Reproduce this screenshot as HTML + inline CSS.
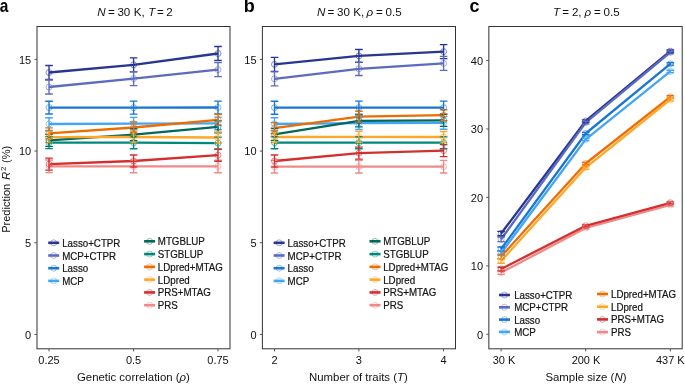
<!DOCTYPE html>
<html><head><meta charset="utf-8"><style>
html,body{margin:0;padding:0;background:#fff;width:685px;height:384px;overflow:hidden;position:relative}
svg{will-change:transform}
</style></head><body>
<svg width="685" height="384" viewBox="0 0 685 384" style="position:absolute;left:0;top:0">
<g font-family='"Liberation Sans", sans-serif' fill="#111" stroke-width="0.15">
<text transform="translate(-0.2,12.3) scale(0.86,1)" font-size="18" font-weight="bold" fill="#000">a</text>
<text x="243.8" y="12.3" font-size="18" font-weight="bold" fill="#000">b</text>
<text x="469.6" y="12.3" font-size="18" font-weight="bold" fill="#000">c</text>
<text x="97.2" y="16.1" font-size="11.6" font-style="italic">N</text>
<text x="108" y="16.1" font-size="11.6">=</text>
<text x="117.4" y="16.1" font-size="11.6">30</text>
<text x="133.8" y="16.1" font-size="11.6">K,</text>
<text x="148.2" y="16.1" font-size="11.6" font-style="italic">T</text>
<text x="157" y="16.1" font-size="11.6">=</text>
<text x="166.3" y="16.1" font-size="11.6">2</text>
<text x="317" y="16.1" font-size="11.6" font-style="italic">N</text>
<text x="327.6" y="16.1" font-size="11.6">=</text>
<text x="337.1" y="16.1" font-size="11.6">30</text>
<text x="353.2" y="16.1" font-size="11.6">K,</text>
<text x="366.6" y="16.1" font-size="11.6" font-style="italic">ρ</text>
<text x="376.1" y="16.1" font-size="11.6">=</text>
<text x="385.6" y="16.1" font-size="11.6">0.5</text>
<text x="552.9" y="16.1" font-size="11.6" font-style="italic">T</text>
<text x="562.3" y="16.1" font-size="11.6">=</text>
<text x="571.9" y="16.1" font-size="11.6">2,</text>
<text x="584.6" y="16.1" font-size="11.6" font-style="italic">ρ</text>
<text x="594" y="16.1" font-size="11.6">=</text>
<text x="603.6" y="16.1" font-size="11.6">0.5</text>
<text transform="translate(10.4,232.8) rotate(-90)" font-size="11" text-anchor="start">Prediction <tspan font-style="italic" dx="1.2">R</tspan><tspan font-size="8" dy="-4.8" dx="0.6">2</tspan><tspan dy="4.8" dx="0.6"> (%)</tspan></text>
<text x="133.4" y="380.8" font-size="11.4" text-anchor="middle" >Genetic correlation (<tspan font-style="italic">ρ</tspan>)</text>
<text x="358.4" y="380.8" font-size="11.4" text-anchor="middle" >Number of traits (<tspan font-style="italic">T</tspan>)</text>
<text x="585.9" y="380.8" font-size="11.4" text-anchor="middle" >Sample size (<tspan font-style="italic">N</tspan>)</text>
<rect x="37.0" y="26.5" width="193.0" height="322.3" fill="none" stroke="#333" stroke-width="1"/>
<path d="M34.4,334.4H37.0" stroke="#555" stroke-width="1"/>
<text x="31.2" y="338.79999999999995" font-size="11" text-anchor="end" >0</text>
<path d="M34.4,242.73H37.0" stroke="#555" stroke-width="1"/>
<text x="31.2" y="247.13" font-size="11" text-anchor="end" >5</text>
<path d="M34.4,151.07H37.0" stroke="#555" stroke-width="1"/>
<text x="31.2" y="155.47" font-size="11" text-anchor="end" >10</text>
<path d="M34.4,59.4H37.0" stroke="#555" stroke-width="1"/>
<text x="31.2" y="63.8" font-size="11" text-anchor="end" >15</text>
<path d="M49,348.8V351.40000000000003" stroke="#555" stroke-width="1"/>
<text x="49" y="364.1" font-size="11" text-anchor="middle" >0.25</text>
<path d="M133.6,348.8V351.40000000000003" stroke="#555" stroke-width="1"/>
<text x="133.6" y="364.1" font-size="11" text-anchor="middle" >0.5</text>
<path d="M218,348.8V351.40000000000003" stroke="#555" stroke-width="1"/>
<text x="218" y="364.1" font-size="11" text-anchor="middle" >0.75</text>
<polyline points="49,72.5 133.6,64.8 218,53.5" fill="none" stroke="#283593" stroke-width="2.3" stroke-linejoin="round"/>
<polyline points="49,87 133.6,78.6 218,69.6" fill="none" stroke="#5C6BC0" stroke-width="2.3" stroke-linejoin="round"/>
<polyline points="49,107.6 133.6,107.6 218,107.5" fill="none" stroke="#1976D2" stroke-width="2.3" stroke-linejoin="round"/>
<polyline points="49,124 133.6,123.6 218,123.4" fill="none" stroke="#42A5F5" stroke-width="2.3" stroke-linejoin="round"/>
<polyline points="49,140.3 133.6,134.6 218,126.8" fill="none" stroke="#00695C" stroke-width="2.3" stroke-linejoin="round"/>
<polyline points="49,142.6 133.6,142.7 218,143.1" fill="none" stroke="#00897B" stroke-width="2.3" stroke-linejoin="round"/>
<polyline points="49,133.4 133.6,127.5 218,119.8" fill="none" stroke="#EF6C00" stroke-width="2.3" stroke-linejoin="round"/>
<polyline points="49,137.1 133.6,137 218,137.5" fill="none" stroke="#FFA726" stroke-width="2.3" stroke-linejoin="round"/>
<polyline points="49,166.3 133.6,166.4 218,166.4" fill="none" stroke="#EF8A8A" stroke-width="2.3" stroke-linejoin="round"/>
<polyline points="49,164.1 133.6,161 218,155.2" fill="none" stroke="#D32F2F" stroke-width="2.3" stroke-linejoin="round"/>
<path d="M49,65.5V79.5M45.2,65.5H52.8M45.2,79.5H52.8" stroke="#283593" stroke-width="1.35" fill="none"/>
<path d="M133.6,57.8V71.8M129.79999999999998,57.8H137.4M129.79999999999998,71.8H137.4" stroke="#283593" stroke-width="1.35" fill="none"/>
<path d="M218,46.5V60.5M214.2,46.5H221.8M214.2,60.5H221.8" stroke="#283593" stroke-width="1.35" fill="none"/>
<path d="M49,80V94M45.2,80H52.8M45.2,94H52.8" stroke="#5C6BC0" stroke-width="1.35" fill="none"/>
<path d="M133.6,71.6V85.6M129.79999999999998,71.6H137.4M129.79999999999998,85.6H137.4" stroke="#5C6BC0" stroke-width="1.35" fill="none"/>
<path d="M218,62.6V76.6M214.2,62.6H221.8M214.2,76.6H221.8" stroke="#5C6BC0" stroke-width="1.35" fill="none"/>
<path d="M49,101.2V114.0M45.2,101.2H52.8M45.2,114.0H52.8" stroke="#1976D2" stroke-width="1.35" fill="none"/>
<path d="M133.6,101.1V114.1M129.79999999999998,101.1H137.4M129.79999999999998,114.1H137.4" stroke="#1976D2" stroke-width="1.35" fill="none"/>
<path d="M218,101.1V113.9M214.2,101.1H221.8M214.2,113.9H221.8" stroke="#1976D2" stroke-width="1.35" fill="none"/>
<path d="M49,117.7V130.3M45.2,117.7H52.8M45.2,130.3H52.8" stroke="#42A5F5" stroke-width="1.35" fill="none"/>
<path d="M133.6,117.3V129.9M129.79999999999998,117.3H137.4M129.79999999999998,129.9H137.4" stroke="#42A5F5" stroke-width="1.35" fill="none"/>
<path d="M218,117.1V129.7M214.2,117.1H221.8M214.2,129.7H221.8" stroke="#42A5F5" stroke-width="1.35" fill="none"/>
<path d="M49,134.3V146.3M45.2,134.3H52.8M45.2,146.3H52.8" stroke="#00695C" stroke-width="1.35" fill="none"/>
<path d="M133.6,128.6V140.6M129.79999999999998,128.6H137.4M129.79999999999998,140.6H137.4" stroke="#00695C" stroke-width="1.35" fill="none"/>
<path d="M218,120.8V132.8M214.2,120.8H221.8M214.2,132.8H221.8" stroke="#00695C" stroke-width="1.35" fill="none"/>
<path d="M49,136.6V148.6M45.2,136.6H52.8M45.2,148.6H52.8" stroke="#00897B" stroke-width="1.35" fill="none"/>
<path d="M133.6,136.7V148.7M129.79999999999998,136.7H137.4M129.79999999999998,148.7H137.4" stroke="#00897B" stroke-width="1.35" fill="none"/>
<path d="M218,137.1V149.1M214.2,137.1H221.8M214.2,149.1H221.8" stroke="#00897B" stroke-width="1.35" fill="none"/>
<path d="M49,127.9V138.9M45.2,127.9H52.8M45.2,138.9H52.8" stroke="#EF6C00" stroke-width="1.35" fill="none"/>
<path d="M133.6,122.0V133.0M129.79999999999998,122.0H137.4M129.79999999999998,133.0H137.4" stroke="#EF6C00" stroke-width="1.35" fill="none"/>
<path d="M218,114.3V125.3M214.2,114.3H221.8M214.2,125.3H221.8" stroke="#EF6C00" stroke-width="1.35" fill="none"/>
<path d="M49,131.6V142.6M45.2,131.6H52.8M45.2,142.6H52.8" stroke="#FFA726" stroke-width="1.35" fill="none"/>
<path d="M133.6,131.5V142.5M129.79999999999998,131.5H137.4M129.79999999999998,142.5H137.4" stroke="#FFA726" stroke-width="1.35" fill="none"/>
<path d="M218,132.0V143.0M214.2,132.0H221.8M214.2,143.0H221.8" stroke="#FFA726" stroke-width="1.35" fill="none"/>
<path d="M49,160.0V172.6M45.2,160.0H52.8M45.2,172.6H52.8" stroke="#EF8A8A" stroke-width="1.35" fill="none"/>
<path d="M133.6,160.1V172.7M129.79999999999998,160.1H137.4M129.79999999999998,172.7H137.4" stroke="#EF8A8A" stroke-width="1.35" fill="none"/>
<path d="M218,160.1V172.7M214.2,160.1H221.8M214.2,172.7H221.8" stroke="#EF8A8A" stroke-width="1.35" fill="none"/>
<path d="M49,158.1V170.1M45.2,158.1H52.8M45.2,170.1H52.8" stroke="#D32F2F" stroke-width="1.35" fill="none"/>
<path d="M133.6,155V167M129.79999999999998,155H137.4M129.79999999999998,167H137.4" stroke="#D32F2F" stroke-width="1.35" fill="none"/>
<path d="M218,149.2V161.2M214.2,149.2H221.8M214.2,161.2H221.8" stroke="#D32F2F" stroke-width="1.35" fill="none"/>
<circle cx="49" cy="72.5" r="3" fill="none" stroke="#283593" stroke-width="0.8" stroke-opacity="0.7"/>
<circle cx="133.6" cy="64.8" r="3" fill="none" stroke="#283593" stroke-width="0.8" stroke-opacity="0.7"/>
<circle cx="218" cy="53.5" r="3" fill="none" stroke="#283593" stroke-width="0.8" stroke-opacity="0.7"/>
<circle cx="49" cy="87" r="3" fill="none" stroke="#5C6BC0" stroke-width="0.8" stroke-opacity="0.7"/>
<circle cx="133.6" cy="78.6" r="3" fill="none" stroke="#5C6BC0" stroke-width="0.8" stroke-opacity="0.7"/>
<circle cx="218" cy="69.6" r="3" fill="none" stroke="#5C6BC0" stroke-width="0.8" stroke-opacity="0.7"/>
<circle cx="49" cy="107.6" r="3" fill="none" stroke="#1976D2" stroke-width="0.8" stroke-opacity="0.7"/>
<circle cx="133.6" cy="107.6" r="3" fill="none" stroke="#1976D2" stroke-width="0.8" stroke-opacity="0.7"/>
<circle cx="218" cy="107.5" r="3" fill="none" stroke="#1976D2" stroke-width="0.8" stroke-opacity="0.7"/>
<circle cx="49" cy="124" r="3" fill="none" stroke="#42A5F5" stroke-width="0.8" stroke-opacity="0.7"/>
<circle cx="133.6" cy="123.6" r="3" fill="none" stroke="#42A5F5" stroke-width="0.8" stroke-opacity="0.7"/>
<circle cx="218" cy="123.4" r="3" fill="none" stroke="#42A5F5" stroke-width="0.8" stroke-opacity="0.7"/>
<circle cx="49" cy="140.3" r="3" fill="none" stroke="#00695C" stroke-width="0.8" stroke-opacity="0.7"/>
<circle cx="133.6" cy="134.6" r="3" fill="none" stroke="#00695C" stroke-width="0.8" stroke-opacity="0.7"/>
<circle cx="218" cy="126.8" r="3" fill="none" stroke="#00695C" stroke-width="0.8" stroke-opacity="0.7"/>
<circle cx="49" cy="142.6" r="3" fill="none" stroke="#00897B" stroke-width="0.8" stroke-opacity="0.7"/>
<circle cx="133.6" cy="142.7" r="3" fill="none" stroke="#00897B" stroke-width="0.8" stroke-opacity="0.7"/>
<circle cx="218" cy="143.1" r="3" fill="none" stroke="#00897B" stroke-width="0.8" stroke-opacity="0.7"/>
<circle cx="49" cy="133.4" r="3" fill="none" stroke="#EF6C00" stroke-width="0.8" stroke-opacity="0.7"/>
<circle cx="133.6" cy="127.5" r="3" fill="none" stroke="#EF6C00" stroke-width="0.8" stroke-opacity="0.7"/>
<circle cx="218" cy="119.8" r="3" fill="none" stroke="#EF6C00" stroke-width="0.8" stroke-opacity="0.7"/>
<circle cx="49" cy="137.1" r="3" fill="none" stroke="#FFA726" stroke-width="0.8" stroke-opacity="0.7"/>
<circle cx="133.6" cy="137" r="3" fill="none" stroke="#FFA726" stroke-width="0.8" stroke-opacity="0.7"/>
<circle cx="218" cy="137.5" r="3" fill="none" stroke="#FFA726" stroke-width="0.8" stroke-opacity="0.7"/>
<circle cx="49" cy="166.3" r="3" fill="none" stroke="#EF8A8A" stroke-width="0.8" stroke-opacity="0.7"/>
<circle cx="133.6" cy="166.4" r="3" fill="none" stroke="#EF8A8A" stroke-width="0.8" stroke-opacity="0.7"/>
<circle cx="218" cy="166.4" r="3" fill="none" stroke="#EF8A8A" stroke-width="0.8" stroke-opacity="0.7"/>
<circle cx="49" cy="164.1" r="3" fill="none" stroke="#D32F2F" stroke-width="0.8" stroke-opacity="0.7"/>
<circle cx="133.6" cy="161" r="3" fill="none" stroke="#D32F2F" stroke-width="0.8" stroke-opacity="0.7"/>
<circle cx="218" cy="155.2" r="3" fill="none" stroke="#D32F2F" stroke-width="0.8" stroke-opacity="0.7"/>
<rect x="262.4" y="26.5" width="193.10000000000002" height="322.3" fill="none" stroke="#333" stroke-width="1"/>
<path d="M259.79999999999995,334.4H262.4" stroke="#555" stroke-width="1"/>
<text x="256.59999999999997" y="338.79999999999995" font-size="11" text-anchor="end" >0</text>
<path d="M259.79999999999995,242.73H262.4" stroke="#555" stroke-width="1"/>
<text x="256.59999999999997" y="247.13" font-size="11" text-anchor="end" >5</text>
<path d="M259.79999999999995,151.07H262.4" stroke="#555" stroke-width="1"/>
<text x="256.59999999999997" y="155.47" font-size="11" text-anchor="end" >10</text>
<path d="M259.79999999999995,59.4H262.4" stroke="#555" stroke-width="1"/>
<text x="256.59999999999997" y="63.8" font-size="11" text-anchor="end" >15</text>
<path d="M274.5,348.8V351.40000000000003" stroke="#555" stroke-width="1"/>
<text x="274.5" y="364.1" font-size="11" text-anchor="middle" >2</text>
<path d="M358.9,348.8V351.40000000000003" stroke="#555" stroke-width="1"/>
<text x="358.9" y="364.1" font-size="11" text-anchor="middle" >3</text>
<path d="M443.6,348.8V351.40000000000003" stroke="#555" stroke-width="1"/>
<text x="443.6" y="364.1" font-size="11" text-anchor="middle" >4</text>
<polyline points="274.5,64.4 358.9,55.9 443.6,51.6" fill="none" stroke="#283593" stroke-width="2.3" stroke-linejoin="round"/>
<polyline points="274.5,78.8 358.9,68.8 443.6,63.4" fill="none" stroke="#5C6BC0" stroke-width="2.3" stroke-linejoin="round"/>
<polyline points="274.5,107.7 358.9,107.6 443.6,107.6" fill="none" stroke="#1976D2" stroke-width="2.3" stroke-linejoin="round"/>
<polyline points="274.5,124 358.9,123.2 443.6,122.9" fill="none" stroke="#42A5F5" stroke-width="2.3" stroke-linejoin="round"/>
<polyline points="274.5,134.4 358.9,120.8 443.6,120.4" fill="none" stroke="#00695C" stroke-width="2.3" stroke-linejoin="round"/>
<polyline points="274.5,142.7 358.9,142.7 443.6,142.7" fill="none" stroke="#00897B" stroke-width="2.3" stroke-linejoin="round"/>
<polyline points="274.5,128.1 358.9,116.7 443.6,115.2" fill="none" stroke="#EF6C00" stroke-width="2.3" stroke-linejoin="round"/>
<polyline points="274.5,137.0 358.9,136.9 443.6,137.0" fill="none" stroke="#FFA726" stroke-width="2.3" stroke-linejoin="round"/>
<polyline points="274.5,166.7 358.9,166.7 443.6,166.7" fill="none" stroke="#EF8A8A" stroke-width="2.3" stroke-linejoin="round"/>
<polyline points="274.5,161 358.9,153.1 443.6,150.6" fill="none" stroke="#D32F2F" stroke-width="2.3" stroke-linejoin="round"/>
<path d="M274.5,57.4V71.4M270.7,57.4H278.3M270.7,71.4H278.3" stroke="#283593" stroke-width="1.35" fill="none"/>
<path d="M358.9,49.5V62.3M355.09999999999997,49.5H362.7M355.09999999999997,62.3H362.7" stroke="#283593" stroke-width="1.35" fill="none"/>
<path d="M443.6,44.6V58.6M439.8,44.6H447.40000000000003M439.8,58.6H447.40000000000003" stroke="#283593" stroke-width="1.35" fill="none"/>
<path d="M274.5,71.8V85.8M270.7,71.8H278.3M270.7,85.8H278.3" stroke="#5C6BC0" stroke-width="1.35" fill="none"/>
<path d="M358.9,62.1V75.5M355.09999999999997,62.1H362.7M355.09999999999997,75.5H362.7" stroke="#5C6BC0" stroke-width="1.35" fill="none"/>
<path d="M443.6,56.4V70.4M439.8,56.4H447.40000000000003M439.8,70.4H447.40000000000003" stroke="#5C6BC0" stroke-width="1.35" fill="none"/>
<path d="M274.5,101.2V114.2M270.7,101.2H278.3M270.7,114.2H278.3" stroke="#1976D2" stroke-width="1.35" fill="none"/>
<path d="M358.9,101.1V114.1M355.09999999999997,101.1H362.7M355.09999999999997,114.1H362.7" stroke="#1976D2" stroke-width="1.35" fill="none"/>
<path d="M443.6,101.1V114.1M439.8,101.1H447.40000000000003M439.8,114.1H447.40000000000003" stroke="#1976D2" stroke-width="1.35" fill="none"/>
<path d="M274.5,117.7V130.3M270.7,117.7H278.3M270.7,130.3H278.3" stroke="#42A5F5" stroke-width="1.35" fill="none"/>
<path d="M358.9,116.9V129.5M355.09999999999997,116.9H362.7M355.09999999999997,129.5H362.7" stroke="#42A5F5" stroke-width="1.35" fill="none"/>
<path d="M443.6,116.6V129.2M439.8,116.6H447.40000000000003M439.8,129.2H447.40000000000003" stroke="#42A5F5" stroke-width="1.35" fill="none"/>
<path d="M274.5,128.4V140.4M270.7,128.4H278.3M270.7,140.4H278.3" stroke="#00695C" stroke-width="1.35" fill="none"/>
<path d="M358.9,114.8V126.8M355.09999999999997,114.8H362.7M355.09999999999997,126.8H362.7" stroke="#00695C" stroke-width="1.35" fill="none"/>
<path d="M443.6,114.4V126.4M439.8,114.4H447.40000000000003M439.8,126.4H447.40000000000003" stroke="#00695C" stroke-width="1.35" fill="none"/>
<path d="M274.5,136.7V148.7M270.7,136.7H278.3M270.7,148.7H278.3" stroke="#00897B" stroke-width="1.35" fill="none"/>
<path d="M358.9,136.7V148.7M355.09999999999997,136.7H362.7M355.09999999999997,148.7H362.7" stroke="#00897B" stroke-width="1.35" fill="none"/>
<path d="M443.6,136.7V148.7M439.8,136.7H447.40000000000003M439.8,148.7H447.40000000000003" stroke="#00897B" stroke-width="1.35" fill="none"/>
<path d="M274.5,122.6V133.6M270.7,122.6H278.3M270.7,133.6H278.3" stroke="#EF6C00" stroke-width="1.35" fill="none"/>
<path d="M358.9,111.2V122.2M355.09999999999997,111.2H362.7M355.09999999999997,122.2H362.7" stroke="#EF6C00" stroke-width="1.35" fill="none"/>
<path d="M443.6,109.7V120.7M439.8,109.7H447.40000000000003M439.8,120.7H447.40000000000003" stroke="#EF6C00" stroke-width="1.35" fill="none"/>
<path d="M274.5,131.5V142.5M270.7,131.5H278.3M270.7,142.5H278.3" stroke="#FFA726" stroke-width="1.35" fill="none"/>
<path d="M358.9,131.4V142.4M355.09999999999997,131.4H362.7M355.09999999999997,142.4H362.7" stroke="#FFA726" stroke-width="1.35" fill="none"/>
<path d="M443.6,131.5V142.5M439.8,131.5H447.40000000000003M439.8,142.5H447.40000000000003" stroke="#FFA726" stroke-width="1.35" fill="none"/>
<path d="M274.5,160.4V173.0M270.7,160.4H278.3M270.7,173.0H278.3" stroke="#EF8A8A" stroke-width="1.35" fill="none"/>
<path d="M358.9,160.4V173.0M355.09999999999997,160.4H362.7M355.09999999999997,173.0H362.7" stroke="#EF8A8A" stroke-width="1.35" fill="none"/>
<path d="M443.6,160.4V173.0M439.8,160.4H447.40000000000003M439.8,173.0H447.40000000000003" stroke="#EF8A8A" stroke-width="1.35" fill="none"/>
<path d="M274.5,155V167M270.7,155H278.3M270.7,167H278.3" stroke="#D32F2F" stroke-width="1.35" fill="none"/>
<path d="M358.9,147.1V159.1M355.09999999999997,147.1H362.7M355.09999999999997,159.1H362.7" stroke="#D32F2F" stroke-width="1.35" fill="none"/>
<path d="M443.6,144.6V156.6M439.8,144.6H447.40000000000003M439.8,156.6H447.40000000000003" stroke="#D32F2F" stroke-width="1.35" fill="none"/>
<circle cx="274.5" cy="64.4" r="3" fill="none" stroke="#283593" stroke-width="0.8" stroke-opacity="0.7"/>
<circle cx="358.9" cy="55.9" r="3" fill="none" stroke="#283593" stroke-width="0.8" stroke-opacity="0.7"/>
<circle cx="443.6" cy="51.6" r="3" fill="none" stroke="#283593" stroke-width="0.8" stroke-opacity="0.7"/>
<circle cx="274.5" cy="78.8" r="3" fill="none" stroke="#5C6BC0" stroke-width="0.8" stroke-opacity="0.7"/>
<circle cx="358.9" cy="68.8" r="3" fill="none" stroke="#5C6BC0" stroke-width="0.8" stroke-opacity="0.7"/>
<circle cx="443.6" cy="63.4" r="3" fill="none" stroke="#5C6BC0" stroke-width="0.8" stroke-opacity="0.7"/>
<circle cx="274.5" cy="107.7" r="3" fill="none" stroke="#1976D2" stroke-width="0.8" stroke-opacity="0.7"/>
<circle cx="358.9" cy="107.6" r="3" fill="none" stroke="#1976D2" stroke-width="0.8" stroke-opacity="0.7"/>
<circle cx="443.6" cy="107.6" r="3" fill="none" stroke="#1976D2" stroke-width="0.8" stroke-opacity="0.7"/>
<circle cx="274.5" cy="124" r="3" fill="none" stroke="#42A5F5" stroke-width="0.8" stroke-opacity="0.7"/>
<circle cx="358.9" cy="123.2" r="3" fill="none" stroke="#42A5F5" stroke-width="0.8" stroke-opacity="0.7"/>
<circle cx="443.6" cy="122.9" r="3" fill="none" stroke="#42A5F5" stroke-width="0.8" stroke-opacity="0.7"/>
<circle cx="274.5" cy="134.4" r="3" fill="none" stroke="#00695C" stroke-width="0.8" stroke-opacity="0.7"/>
<circle cx="358.9" cy="120.8" r="3" fill="none" stroke="#00695C" stroke-width="0.8" stroke-opacity="0.7"/>
<circle cx="443.6" cy="120.4" r="3" fill="none" stroke="#00695C" stroke-width="0.8" stroke-opacity="0.7"/>
<circle cx="274.5" cy="142.7" r="3" fill="none" stroke="#00897B" stroke-width="0.8" stroke-opacity="0.7"/>
<circle cx="358.9" cy="142.7" r="3" fill="none" stroke="#00897B" stroke-width="0.8" stroke-opacity="0.7"/>
<circle cx="443.6" cy="142.7" r="3" fill="none" stroke="#00897B" stroke-width="0.8" stroke-opacity="0.7"/>
<circle cx="274.5" cy="128.1" r="3" fill="none" stroke="#EF6C00" stroke-width="0.8" stroke-opacity="0.7"/>
<circle cx="358.9" cy="116.7" r="3" fill="none" stroke="#EF6C00" stroke-width="0.8" stroke-opacity="0.7"/>
<circle cx="443.6" cy="115.2" r="3" fill="none" stroke="#EF6C00" stroke-width="0.8" stroke-opacity="0.7"/>
<circle cx="274.5" cy="137.0" r="3" fill="none" stroke="#FFA726" stroke-width="0.8" stroke-opacity="0.7"/>
<circle cx="358.9" cy="136.9" r="3" fill="none" stroke="#FFA726" stroke-width="0.8" stroke-opacity="0.7"/>
<circle cx="443.6" cy="137.0" r="3" fill="none" stroke="#FFA726" stroke-width="0.8" stroke-opacity="0.7"/>
<circle cx="274.5" cy="166.7" r="3" fill="none" stroke="#EF8A8A" stroke-width="0.8" stroke-opacity="0.7"/>
<circle cx="358.9" cy="166.7" r="3" fill="none" stroke="#EF8A8A" stroke-width="0.8" stroke-opacity="0.7"/>
<circle cx="443.6" cy="166.7" r="3" fill="none" stroke="#EF8A8A" stroke-width="0.8" stroke-opacity="0.7"/>
<circle cx="274.5" cy="161" r="3" fill="none" stroke="#D32F2F" stroke-width="0.8" stroke-opacity="0.7"/>
<circle cx="358.9" cy="153.1" r="3" fill="none" stroke="#D32F2F" stroke-width="0.8" stroke-opacity="0.7"/>
<circle cx="443.6" cy="150.6" r="3" fill="none" stroke="#D32F2F" stroke-width="0.8" stroke-opacity="0.7"/>
<rect x="488.85" y="26.5" width="193.35000000000002" height="322.3" fill="none" stroke="#333" stroke-width="1"/>
<path d="M486.25,334.3H488.85" stroke="#555" stroke-width="1"/>
<text x="483.05" y="338.7" font-size="11" text-anchor="end" >0</text>
<path d="M486.25,265.85H488.85" stroke="#555" stroke-width="1"/>
<text x="483.05" y="270.25" font-size="11" text-anchor="end" >10</text>
<path d="M486.25,197.4H488.85" stroke="#555" stroke-width="1"/>
<text x="483.05" y="201.8" font-size="11" text-anchor="end" >20</text>
<path d="M486.25,128.95H488.85" stroke="#555" stroke-width="1"/>
<text x="483.05" y="133.35" font-size="11" text-anchor="end" >30</text>
<path d="M486.25,60.5H488.85" stroke="#555" stroke-width="1"/>
<text x="483.05" y="64.9" font-size="11" text-anchor="end" >40</text>
<path d="M501.1,348.8V351.40000000000003" stroke="#555" stroke-width="1"/>
<text x="504.0" y="364.1" font-size="11" text-anchor="middle" >30 K</text>
<path d="M585.7,348.8V351.40000000000003" stroke="#555" stroke-width="1"/>
<text x="586.0" y="364.1" font-size="11" text-anchor="middle" >200 K</text>
<path d="M670.3,348.8V351.40000000000003" stroke="#555" stroke-width="1"/>
<text x="670.3" y="364.1" font-size="11" text-anchor="middle" >437 K</text>
<polyline points="501.1,233.5 585.7,121.0 670.3,51.2" fill="none" stroke="#283593" stroke-width="2.3" stroke-linejoin="round"/>
<polyline points="501.1,239.3 585.7,122.6 670.3,52.3" fill="none" stroke="#5C6BC0" stroke-width="2.3" stroke-linejoin="round"/>
<polyline points="501.1,249 585.7,133.5 670.3,63.9" fill="none" stroke="#1976D2" stroke-width="2.3" stroke-linejoin="round"/>
<polyline points="501.1,253 585.7,139.4 670.3,71.4" fill="none" stroke="#42A5F5" stroke-width="2.3" stroke-linejoin="round"/>
<polyline points="501.1,256.5 585.7,163.5 670.3,96.9" fill="none" stroke="#EF6C00" stroke-width="2.3" stroke-linejoin="round"/>
<polyline points="501.1,261 585.7,167.6 670.3,99.6" fill="none" stroke="#FFA726" stroke-width="2.3" stroke-linejoin="round"/>
<polyline points="501.1,272.6 585.7,228.0 670.3,205.0" fill="none" stroke="#EF8A8A" stroke-width="2.3" stroke-linejoin="round"/>
<polyline points="501.1,269 585.7,225.8 670.3,202.8" fill="none" stroke="#D32F2F" stroke-width="2.3" stroke-linejoin="round"/>
<path d="M501.1,231.3V235.7M497.3,231.3H504.90000000000003M497.3,235.7H504.90000000000003" stroke="#283593" stroke-width="1.35" fill="none"/>
<path d="M585.7,119.8V122.2M581.9000000000001,119.8H589.5M581.9000000000001,122.2H589.5" stroke="#283593" stroke-width="1.35" fill="none"/>
<path d="M670.3,50.0V52.4M666.5,50.0H674.0999999999999M666.5,52.4H674.0999999999999" stroke="#283593" stroke-width="1.35" fill="none"/>
<path d="M501.1,237.0V241.6M497.3,237.0H504.90000000000003M497.3,241.6H504.90000000000003" stroke="#5C6BC0" stroke-width="1.35" fill="none"/>
<path d="M585.7,121.4V123.8M581.9000000000001,121.4H589.5M581.9000000000001,123.8H589.5" stroke="#5C6BC0" stroke-width="1.35" fill="none"/>
<path d="M670.3,51.1V53.5M666.5,51.1H674.0999999999999M666.5,53.5H674.0999999999999" stroke="#5C6BC0" stroke-width="1.35" fill="none"/>
<path d="M501.1,247.0V251.0M497.3,247.0H504.90000000000003M497.3,251.0H504.90000000000003" stroke="#1976D2" stroke-width="1.35" fill="none"/>
<path d="M585.7,132.3V134.7M581.9000000000001,132.3H589.5M581.9000000000001,134.7H589.5" stroke="#1976D2" stroke-width="1.35" fill="none"/>
<path d="M670.3,62.7V65.1M666.5,62.7H674.0999999999999M666.5,65.1H674.0999999999999" stroke="#1976D2" stroke-width="1.35" fill="none"/>
<path d="M501.1,250.6V255.4M497.3,250.6H504.90000000000003M497.3,255.4H504.90000000000003" stroke="#42A5F5" stroke-width="1.35" fill="none"/>
<path d="M585.7,138.2V140.6M581.9000000000001,138.2H589.5M581.9000000000001,140.6H589.5" stroke="#42A5F5" stroke-width="1.35" fill="none"/>
<path d="M670.3,70.2V72.6M666.5,70.2H674.0999999999999M666.5,72.6H674.0999999999999" stroke="#42A5F5" stroke-width="1.35" fill="none"/>
<path d="M501.1,254.3V258.7M497.3,254.3H504.90000000000003M497.3,258.7H504.90000000000003" stroke="#EF6C00" stroke-width="1.35" fill="none"/>
<path d="M585.7,162.3V164.7M581.9000000000001,162.3H589.5M581.9000000000001,164.7H589.5" stroke="#EF6C00" stroke-width="1.35" fill="none"/>
<path d="M670.3,95.7V98.1M666.5,95.7H674.0999999999999M666.5,98.1H674.0999999999999" stroke="#EF6C00" stroke-width="1.35" fill="none"/>
<path d="M501.1,258.8V263.2M497.3,258.8H504.90000000000003M497.3,263.2H504.90000000000003" stroke="#FFA726" stroke-width="1.35" fill="none"/>
<path d="M585.7,166.1V169.1M581.9000000000001,166.1H589.5M581.9000000000001,169.1H589.5" stroke="#FFA726" stroke-width="1.35" fill="none"/>
<path d="M670.3,98.4V100.8M666.5,98.4H674.0999999999999M666.5,100.8H674.0999999999999" stroke="#FFA726" stroke-width="1.35" fill="none"/>
<path d="M501.1,270.8V274.4M497.3,270.8H504.90000000000003M497.3,274.4H504.90000000000003" stroke="#EF8A8A" stroke-width="1.35" fill="none"/>
<path d="M585.7,227.0V229.0M581.9000000000001,227.0H589.5M581.9000000000001,229.0H589.5" stroke="#EF8A8A" stroke-width="1.35" fill="none"/>
<path d="M670.3,204.0V206.0M666.5,204.0H674.0999999999999M666.5,206.0H674.0999999999999" stroke="#EF8A8A" stroke-width="1.35" fill="none"/>
<path d="M501.1,267.2V270.8M497.3,267.2H504.90000000000003M497.3,270.8H504.90000000000003" stroke="#D32F2F" stroke-width="1.35" fill="none"/>
<path d="M585.7,224.8V226.8M581.9000000000001,224.8H589.5M581.9000000000001,226.8H589.5" stroke="#D32F2F" stroke-width="1.35" fill="none"/>
<path d="M670.3,201.8V203.8M666.5,201.8H674.0999999999999M666.5,203.8H674.0999999999999" stroke="#D32F2F" stroke-width="1.35" fill="none"/>
<circle cx="501.1" cy="233.5" r="3" fill="none" stroke="#283593" stroke-width="0.8" stroke-opacity="0.7"/>
<circle cx="585.7" cy="121.0" r="3" fill="none" stroke="#283593" stroke-width="0.8" stroke-opacity="0.7"/>
<circle cx="670.3" cy="51.2" r="3" fill="none" stroke="#283593" stroke-width="0.8" stroke-opacity="0.7"/>
<circle cx="501.1" cy="239.3" r="3" fill="none" stroke="#5C6BC0" stroke-width="0.8" stroke-opacity="0.7"/>
<circle cx="585.7" cy="122.6" r="3" fill="none" stroke="#5C6BC0" stroke-width="0.8" stroke-opacity="0.7"/>
<circle cx="670.3" cy="52.3" r="3" fill="none" stroke="#5C6BC0" stroke-width="0.8" stroke-opacity="0.7"/>
<circle cx="501.1" cy="249" r="3" fill="none" stroke="#1976D2" stroke-width="0.8" stroke-opacity="0.7"/>
<circle cx="585.7" cy="133.5" r="3" fill="none" stroke="#1976D2" stroke-width="0.8" stroke-opacity="0.7"/>
<circle cx="670.3" cy="63.9" r="3" fill="none" stroke="#1976D2" stroke-width="0.8" stroke-opacity="0.7"/>
<circle cx="501.1" cy="253" r="3" fill="none" stroke="#42A5F5" stroke-width="0.8" stroke-opacity="0.7"/>
<circle cx="585.7" cy="139.4" r="3" fill="none" stroke="#42A5F5" stroke-width="0.8" stroke-opacity="0.7"/>
<circle cx="670.3" cy="71.4" r="3" fill="none" stroke="#42A5F5" stroke-width="0.8" stroke-opacity="0.7"/>
<circle cx="501.1" cy="256.5" r="3" fill="none" stroke="#EF6C00" stroke-width="0.8" stroke-opacity="0.7"/>
<circle cx="585.7" cy="163.5" r="3" fill="none" stroke="#EF6C00" stroke-width="0.8" stroke-opacity="0.7"/>
<circle cx="670.3" cy="96.9" r="3" fill="none" stroke="#EF6C00" stroke-width="0.8" stroke-opacity="0.7"/>
<circle cx="501.1" cy="261" r="3" fill="none" stroke="#FFA726" stroke-width="0.8" stroke-opacity="0.7"/>
<circle cx="585.7" cy="167.6" r="3" fill="none" stroke="#FFA726" stroke-width="0.8" stroke-opacity="0.7"/>
<circle cx="670.3" cy="99.6" r="3" fill="none" stroke="#FFA726" stroke-width="0.8" stroke-opacity="0.7"/>
<circle cx="501.1" cy="272.6" r="3" fill="none" stroke="#EF8A8A" stroke-width="0.8" stroke-opacity="0.7"/>
<circle cx="585.7" cy="228.0" r="3" fill="none" stroke="#EF8A8A" stroke-width="0.8" stroke-opacity="0.7"/>
<circle cx="670.3" cy="205.0" r="3" fill="none" stroke="#EF8A8A" stroke-width="0.8" stroke-opacity="0.7"/>
<circle cx="501.1" cy="269" r="3" fill="none" stroke="#D32F2F" stroke-width="0.8" stroke-opacity="0.7"/>
<circle cx="585.7" cy="225.8" r="3" fill="none" stroke="#D32F2F" stroke-width="0.8" stroke-opacity="0.7"/>
<circle cx="670.3" cy="202.8" r="3" fill="none" stroke="#D32F2F" stroke-width="0.8" stroke-opacity="0.7"/>
<path d="M48.2,242.8H59.2" stroke="#283593" stroke-width="2.6"/>
<circle cx="53.7" cy="242.8" r="3" fill="none" stroke="#283593" stroke-width="0.7" stroke-opacity="0.6"/>
<text transform="translate(62.2,246.8) scale(1,1.1)" font-size="9.75" stroke="#1a1a1a" stroke-width="0.2">Lasso+CTPR</text>
<path d="M48.2,255.5H59.2" stroke="#5C6BC0" stroke-width="2.6"/>
<circle cx="53.7" cy="255.5" r="3" fill="none" stroke="#5C6BC0" stroke-width="0.7" stroke-opacity="0.6"/>
<text transform="translate(62.2,259.5) scale(1,1.1)" font-size="9.75" stroke="#1a1a1a" stroke-width="0.2">MCP+CTPR</text>
<path d="M48.2,268.2H59.2" stroke="#1976D2" stroke-width="2.6"/>
<circle cx="53.7" cy="268.2" r="3" fill="none" stroke="#1976D2" stroke-width="0.7" stroke-opacity="0.6"/>
<text transform="translate(62.2,272.2) scale(1,1.1)" font-size="9.75" stroke="#1a1a1a" stroke-width="0.2">Lasso</text>
<path d="M48.2,280.9H59.2" stroke="#42A5F5" stroke-width="2.6"/>
<circle cx="53.7" cy="280.9" r="3" fill="none" stroke="#42A5F5" stroke-width="0.7" stroke-opacity="0.6"/>
<text transform="translate(62.2,284.9) scale(1,1.1)" font-size="9.75" stroke="#1a1a1a" stroke-width="0.2">MCP</text>
<path d="M144.1,241.3H155.1" stroke="#00695C" stroke-width="2.6"/>
<circle cx="149.6" cy="241.3" r="3" fill="none" stroke="#00695C" stroke-width="0.7" stroke-opacity="0.6"/>
<text transform="translate(157.8,245.3) scale(1,1.1)" font-size="9.75" stroke="#1a1a1a" stroke-width="0.2">MTGBLUP</text>
<path d="M144.1,254.08H155.1" stroke="#00897B" stroke-width="2.6"/>
<circle cx="149.6" cy="254.08" r="3" fill="none" stroke="#00897B" stroke-width="0.7" stroke-opacity="0.6"/>
<text transform="translate(157.8,258.08) scale(1,1.1)" font-size="9.75" stroke="#1a1a1a" stroke-width="0.2">STGBLUP</text>
<path d="M144.1,266.86H155.1" stroke="#EF6C00" stroke-width="2.6"/>
<circle cx="149.6" cy="266.86" r="3" fill="none" stroke="#EF6C00" stroke-width="0.7" stroke-opacity="0.6"/>
<text transform="translate(157.8,270.86) scale(1,1.1)" font-size="9.75" stroke="#1a1a1a" stroke-width="0.2">LDpred+MTAG</text>
<path d="M144.1,279.64H155.1" stroke="#FFA726" stroke-width="2.6"/>
<circle cx="149.6" cy="279.64" r="3" fill="none" stroke="#FFA726" stroke-width="0.7" stroke-opacity="0.6"/>
<text transform="translate(157.8,283.64) scale(1,1.1)" font-size="9.75" stroke="#1a1a1a" stroke-width="0.2">LDpred</text>
<path d="M144.1,292.42H155.1" stroke="#D32F2F" stroke-width="2.6"/>
<circle cx="149.6" cy="292.42" r="3" fill="none" stroke="#D32F2F" stroke-width="0.7" stroke-opacity="0.6"/>
<text transform="translate(157.8,296.42) scale(1,1.1)" font-size="9.75" stroke="#1a1a1a" stroke-width="0.2">PRS+MTAG</text>
<path d="M144.1,305.2H155.1" stroke="#EF8A8A" stroke-width="2.6"/>
<circle cx="149.6" cy="305.2" r="3" fill="none" stroke="#EF8A8A" stroke-width="0.7" stroke-opacity="0.6"/>
<text transform="translate(157.8,309.2) scale(1,1.1)" font-size="9.75" stroke="#1a1a1a" stroke-width="0.2">PRS</text>
<path d="M273.59999999999997,242.8H284.59999999999997" stroke="#283593" stroke-width="2.6"/>
<circle cx="279.09999999999997" cy="242.8" r="3" fill="none" stroke="#283593" stroke-width="0.7" stroke-opacity="0.6"/>
<text transform="translate(287.59999999999997,246.8) scale(1,1.1)" font-size="9.75" stroke="#1a1a1a" stroke-width="0.2">Lasso+CTPR</text>
<path d="M273.59999999999997,255.5H284.59999999999997" stroke="#5C6BC0" stroke-width="2.6"/>
<circle cx="279.09999999999997" cy="255.5" r="3" fill="none" stroke="#5C6BC0" stroke-width="0.7" stroke-opacity="0.6"/>
<text transform="translate(287.59999999999997,259.5) scale(1,1.1)" font-size="9.75" stroke="#1a1a1a" stroke-width="0.2">MCP+CTPR</text>
<path d="M273.59999999999997,268.2H284.59999999999997" stroke="#1976D2" stroke-width="2.6"/>
<circle cx="279.09999999999997" cy="268.2" r="3" fill="none" stroke="#1976D2" stroke-width="0.7" stroke-opacity="0.6"/>
<text transform="translate(287.59999999999997,272.2) scale(1,1.1)" font-size="9.75" stroke="#1a1a1a" stroke-width="0.2">Lasso</text>
<path d="M273.59999999999997,280.9H284.59999999999997" stroke="#42A5F5" stroke-width="2.6"/>
<circle cx="279.09999999999997" cy="280.9" r="3" fill="none" stroke="#42A5F5" stroke-width="0.7" stroke-opacity="0.6"/>
<text transform="translate(287.59999999999997,284.9) scale(1,1.1)" font-size="9.75" stroke="#1a1a1a" stroke-width="0.2">MCP</text>
<path d="M369.5,241.3H380.5" stroke="#00695C" stroke-width="2.6"/>
<circle cx="375.0" cy="241.3" r="3" fill="none" stroke="#00695C" stroke-width="0.7" stroke-opacity="0.6"/>
<text transform="translate(383.2,245.3) scale(1,1.1)" font-size="9.75" stroke="#1a1a1a" stroke-width="0.2">MTGBLUP</text>
<path d="M369.5,254.08H380.5" stroke="#00897B" stroke-width="2.6"/>
<circle cx="375.0" cy="254.08" r="3" fill="none" stroke="#00897B" stroke-width="0.7" stroke-opacity="0.6"/>
<text transform="translate(383.2,258.08) scale(1,1.1)" font-size="9.75" stroke="#1a1a1a" stroke-width="0.2">STGBLUP</text>
<path d="M369.5,266.86H380.5" stroke="#EF6C00" stroke-width="2.6"/>
<circle cx="375.0" cy="266.86" r="3" fill="none" stroke="#EF6C00" stroke-width="0.7" stroke-opacity="0.6"/>
<text transform="translate(383.2,270.86) scale(1,1.1)" font-size="9.75" stroke="#1a1a1a" stroke-width="0.2">LDpred+MTAG</text>
<path d="M369.5,279.64H380.5" stroke="#FFA726" stroke-width="2.6"/>
<circle cx="375.0" cy="279.64" r="3" fill="none" stroke="#FFA726" stroke-width="0.7" stroke-opacity="0.6"/>
<text transform="translate(383.2,283.64) scale(1,1.1)" font-size="9.75" stroke="#1a1a1a" stroke-width="0.2">LDpred</text>
<path d="M369.5,292.42H380.5" stroke="#D32F2F" stroke-width="2.6"/>
<circle cx="375.0" cy="292.42" r="3" fill="none" stroke="#D32F2F" stroke-width="0.7" stroke-opacity="0.6"/>
<text transform="translate(383.2,296.42) scale(1,1.1)" font-size="9.75" stroke="#1a1a1a" stroke-width="0.2">PRS+MTAG</text>
<path d="M369.5,305.2H380.5" stroke="#EF8A8A" stroke-width="2.6"/>
<circle cx="375.0" cy="305.2" r="3" fill="none" stroke="#EF8A8A" stroke-width="0.7" stroke-opacity="0.6"/>
<text transform="translate(383.2,309.2) scale(1,1.1)" font-size="9.75" stroke="#1a1a1a" stroke-width="0.2">PRS</text>
<path d="M498.95000000000005,295.0H509.95000000000005" stroke="#283593" stroke-width="2.6"/>
<circle cx="504.45000000000005" cy="295.0" r="3" fill="none" stroke="#283593" stroke-width="0.7" stroke-opacity="0.6"/>
<text transform="translate(514.15,299.0) scale(1,1.1)" font-size="9.75" stroke="#1a1a1a" stroke-width="0.2">Lasso+CTPR</text>
<path d="M498.95000000000005,307.3H509.95000000000005" stroke="#5C6BC0" stroke-width="2.6"/>
<circle cx="504.45000000000005" cy="307.3" r="3" fill="none" stroke="#5C6BC0" stroke-width="0.7" stroke-opacity="0.6"/>
<text transform="translate(514.15,311.3) scale(1,1.1)" font-size="9.75" stroke="#1a1a1a" stroke-width="0.2">MCP+CTPR</text>
<path d="M498.95000000000005,319.6H509.95000000000005" stroke="#1976D2" stroke-width="2.6"/>
<circle cx="504.45000000000005" cy="319.6" r="3" fill="none" stroke="#1976D2" stroke-width="0.7" stroke-opacity="0.6"/>
<text transform="translate(514.15,323.6) scale(1,1.1)" font-size="9.75" stroke="#1a1a1a" stroke-width="0.2">Lasso</text>
<path d="M498.95000000000005,331.9H509.95000000000005" stroke="#42A5F5" stroke-width="2.6"/>
<circle cx="504.45000000000005" cy="331.9" r="3" fill="none" stroke="#42A5F5" stroke-width="0.7" stroke-opacity="0.6"/>
<text transform="translate(514.15,335.9) scale(1,1.1)" font-size="9.75" stroke="#1a1a1a" stroke-width="0.2">MCP</text>
<path d="M597,294.0H608" stroke="#EF6C00" stroke-width="2.6"/>
<circle cx="602.5" cy="294.0" r="3" fill="none" stroke="#EF6C00" stroke-width="0.7" stroke-opacity="0.6"/>
<text transform="translate(611,298.0) scale(1,1.1)" font-size="9.75" stroke="#1a1a1a" stroke-width="0.2">LDpred+MTAG</text>
<path d="M597,306.7H608" stroke="#FFA726" stroke-width="2.6"/>
<circle cx="602.5" cy="306.7" r="3" fill="none" stroke="#FFA726" stroke-width="0.7" stroke-opacity="0.6"/>
<text transform="translate(611,310.7) scale(1,1.1)" font-size="9.75" stroke="#1a1a1a" stroke-width="0.2">LDpred</text>
<path d="M597,319.4H608" stroke="#D32F2F" stroke-width="2.6"/>
<circle cx="602.5" cy="319.4" r="3" fill="none" stroke="#D32F2F" stroke-width="0.7" stroke-opacity="0.6"/>
<text transform="translate(611,323.4) scale(1,1.1)" font-size="9.75" stroke="#1a1a1a" stroke-width="0.2">PRS+MTAG</text>
<path d="M597,332.1H608" stroke="#EF8A8A" stroke-width="2.6"/>
<circle cx="602.5" cy="332.1" r="3" fill="none" stroke="#EF8A8A" stroke-width="0.7" stroke-opacity="0.6"/>
<text transform="translate(611,336.1) scale(1,1.1)" font-size="9.75" stroke="#1a1a1a" stroke-width="0.2">PRS</text>
</g></svg>
</body></html>
